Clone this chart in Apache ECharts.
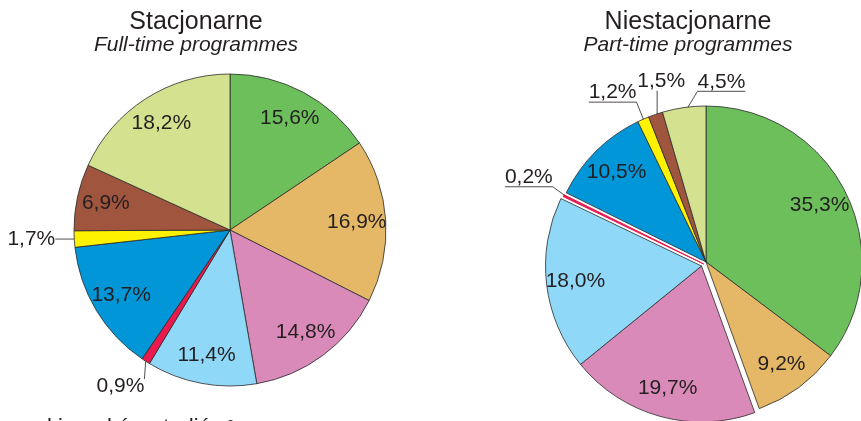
<!DOCTYPE html>
<html>
<head>
<meta charset="utf-8">
<script src="https://cdn.jsdelivr.net/npm/echarts@6/dist/echarts.min.js"></script>
<style>
  html, body { margin: 0; padding: 0; background: #fff; }
  #chart { width: 861px; height: 421px; }
</style>
</head>
<body>
<div id="chart"></div>
<script>
// grupy kierunków (kolejność zgodnie z ruchem wskazówek zegara od góry)
const groups = ['Grupa 1', 'Grupa 2', 'Grupa 3', 'Grupa 4', 'Grupa 5', 'Grupa 6', 'Grupa 7', 'Grupa 8', 'Grupa 9']
const fullTime = [15.6, 16.9, 14.8, 11.4, 0.9, 13.7, 1.7, 6.9, 18.2]
const partTime = [35.3, 9.2, 19.7, 18.0, 0.2, 10.5, 1.2, 1.5, 4.5]
const sliceColors = ['#6cbf5b', '#e4b866', '#d98ab8', '#8fd8f8', '#ea1a4f', '#0096d7', '#fff200', '#a0553f', '#d4e18e']
const titles = ['Stacjonarne', 'Niestacjonarne']
const subtitles = ['Full-time programmes', 'Part-time programmes']
const footText = 'Grupy kierunków studiów'

const textColor = '#231f20'
const font = 'Liberation Sans, Arial, sans-serif'
const R = 156
const leftCenter = [230, 230]
const rightCenter = [706, 262]

// wysunięte wycinki w prawym wykresie
const explodedGroup = [2, 3]
const explodedThin = 4
const explodeOffset = 6

// etykiety zewnętrzne: długości linii odniesienia
const outsideLeft = {
  4: { length: 30, length2: 0, dist: -15 },
  6: { length: 2, length2: 17, dist: 0 }
}
const outsideRight = {
  4: { length: 42, length2: 0, dist: -27 },
  6: { length: 29, length2: 0, dist: -5 },
  7: { length: 35, length2: 0, dist: -41 },
  8: { length: 26, length2: 0, dist: -65 }
}

function fmt (v) {
  return v.toFixed(1).replace('.', ',') + '%'
}

const sum = arr => arr.reduce((a, b) => a + b, 0)

function shiftedCenter (values, from, to, offset) {
  const total = sum(values)
  const start = sum(values.slice(0, from))
  const end = sum(values.slice(0, to + 1))
  const ang = (start + end) / 2 / total * 2 * Math.PI
  return [rightCenter[0] + offset * Math.sin(ang), rightCenter[1] - offset * Math.cos(ang)]
}

const hidden = { color: 'rgba(0,0,0,0)', borderWidth: 0 }
const border = { borderColor: '#2b2b2b', borderWidth: 0.8 }

function outsideItem (cfg) {
  return {
    label: {
      show: true,
      position: 'outside',
      distanceToLabelLine: cfg.dist,
      color: textColor,
      fontSize: 21,
      fontFamily: font
    },
    labelLine: {
      show: true,
      length: cfg.length,
      length2: cfg.length2,
      smooth: false,
      lineStyle: { color: textColor, width: 0.8 }
    }
  }
}

// dane wycinków; visible(i) decyduje, który wycinek rysuje dana seria
function sliceData (values, visible, outside, thinBorder) {
  return values.map((v, i) => {
    const item = { name: groups[i], value: v }
    if (!visible(i)) {
      item.itemStyle = hidden
      item.label = { show: false }
      item.labelLine = { show: false }
      return item
    }
    item.itemStyle = Object.assign({ color: sliceColors[i] }, border)
    if (thinBorder) item.itemStyle = { color: sliceColors[i], borderColor: sliceColors[i], borderWidth: 1 }
    if (outside && outside[i]) Object.assign(item, outsideItem(outside[i]))
    return item
  })
}

// przezroczysty pierścień tylko dla etykiet wewnętrznych
function labelData (values, visible) {
  return values.map((v, i) => ({
    name: groups[i],
    value: v,
    itemStyle: hidden,
    label: { show: visible(i) }
  }))
}

function inset (pts) {
  const dx = pts[0][0] - pts[1][0]
  const dy = pts[0][1] - pts[1][1]
  const len = Math.sqrt(dx * dx + dy * dy) || 1
  return [pts[0][0] + dx / len * 5, pts[0][1] + dy / len * 5]
}

// linia do najbliższego punktu ramki etykiety
function nearestLayout (params) {
  const pts = params.labelLinePoints
  if (!pts) return {}
  const r = params.labelRect
  const p0 = pts[0]
  const x = Math.min(Math.max(p0[0], r.x), r.x + r.width)
  const y = Math.min(Math.max(p0[1], r.y + 3), r.y + r.height)
  return { labelLinePoints: [p0, [x, y], [x, y]] }
}

// linia zakończona podkreśleniem etykiety
function underlineLayout (params) {
  const pts = params.labelLinePoints
  if (!pts) return {}
  const r = params.labelRect
  const p0 = inset(pts)
  const yb = r.y + r.height - 1
  if (p0[0] >= r.x && p0[0] <= r.x + r.width) {
    return { labelLinePoints: [p0, [p0[0], yb], [p0[0], yb]] }
  }
  const near = p0[0] < r.x ? r.x : r.x + r.width
  const far = p0[0] < r.x ? r.x + r.width : r.x
  return { labelLinePoints: [p0, [near, yb], [far, yb]] }
}

const pieBase = {
  type: 'pie',
  startAngle: 90,
  clockwise: true,
  avoidLabelOverlap: false,
  animation: false,
  silent: true,
  emphasis: { disabled: true },
  label: { show: false },
  labelLine: { show: false }
}

const ringLabel = {
  show: true,
  position: 'inside',
  color: textColor,
  fontSize: 21,
  fontFamily: font,
  formatter: p => fmt(p.value)
}

const inGroup = i => explodedGroup.includes(i)
const leftInside = i => !outsideLeft[i]
const groupCenter = shiftedCenter(partTime, 2, 4, explodeOffset)
const thinCenter = shiftedCenter(partTime, 2, 4, explodeOffset / 2)

const chart = echarts.init(document.getElementById('chart'), null, { renderer: 'canvas' })

const option = {
  backgroundColor: '#fff',
  title: titles.map((t, i) => ({
    text: t,
    subtext: subtitles[i],
    left: i === 0 ? 196 : 688,
    top: 10,
    textAlign: 'center',
    padding: 0,
    itemGap: 0,
    textStyle: { color: textColor, fontSize: 25, fontWeight: 'normal', fontFamily: font },
    subtextStyle: { color: textColor, fontSize: 21, fontStyle: 'italic', fontFamily: font }
  })),
  graphic: [{
    type: 'text',
    x: -19,
    y: 417,
    silent: true,
    style: {
      text: '{n|' + footText + '}{s|a}',
      rich: {
        n: { fontSize: 22, fontFamily: font, fill: textColor },
        s: { fontSize: 14, fontFamily: font, fill: textColor, verticalAlign: 'top' }
      }
    }
  }],
  series: [
    // stacjonarne
    Object.assign({}, pieBase, {
      center: leftCenter,
      radius: [0, R],
      label: { show: false, formatter: p => fmt(p.value) },
      labelLayout: nearestLayout,
      data: sliceData(fullTime, () => true, outsideLeft)
    }),
    Object.assign({}, pieBase, {
      center: leftCenter,
      radius: [92, R],
      label: ringLabel,
      data: labelData(fullTime, leftInside)
    }),
    // niestacjonarne
    Object.assign({}, pieBase, {
      center: rightCenter,
      radius: [0, R],
      label: { show: false, formatter: p => fmt(p.value) },
      labelLayout: underlineLayout,
      data: sliceData(partTime, i => !inGroup(i) && i !== explodedThin, outsideRight)
    }),
    Object.assign({}, pieBase, {
      center: groupCenter,
      radius: [0, R],
      data: sliceData(partTime, inGroup, null)
    }),
    Object.assign({}, pieBase, {
      center: thinCenter,
      radius: [0, R],
      label: { show: false, formatter: p => fmt(p.value) },
      labelLayout: underlineLayout,
      data: sliceData(partTime, i => i === explodedThin, outsideRight, true)
    }),
    Object.assign({}, pieBase, {
      center: rightCenter,
      radius: [92, R],
      label: ringLabel,
      data: labelData(partTime, i => !inGroup(i) && !outsideRight[i])
    }),
    Object.assign({}, pieBase, {
      center: groupCenter,
      radius: [92, R],
      label: ringLabel,
      data: labelData(partTime, inGroup)
    })
  ]
}

chart.setOption(option)
</script>
</body>
</html>
